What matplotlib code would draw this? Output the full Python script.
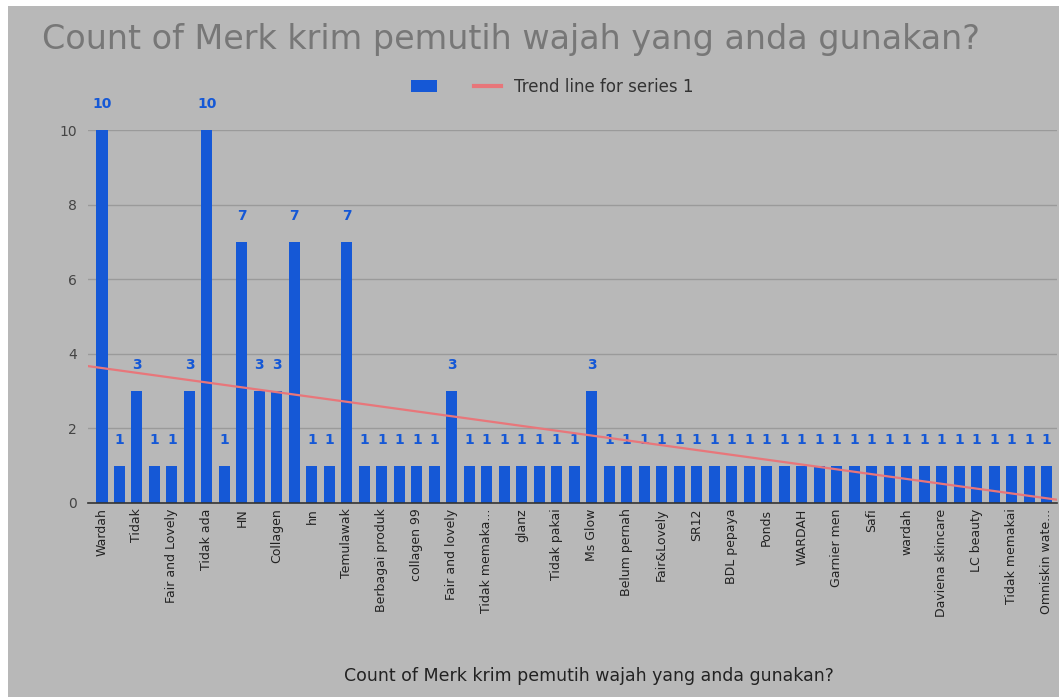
import numpy as np
import matplotlib
matplotlib.use("Agg")
import matplotlib.pyplot as plt
from matplotlib.patches import Rectangle, Patch
from matplotlib.lines import Line2D

# brand answers (one bar per response group), only every other name is shown on the axis
tick_labels = ["Wardah", "Tidak", "Fair and Lovely", "Tidak ada", "HN", "Collagen", "hn",
               "Temulawak", "Berbagai produk", "collagen 99", "Fair and lovely",
               "Tidak memaka...", "glanz", "Tidak pakai", "Ms Glow", "Belum pernah",
               "Fair&Lovely", "SR12", "BDL pepaya", "Ponds", "WARDAH", "Garnier men",
               "Safi", "wardah", "Daviena skincare", "LC beauty", "Tidak memakai",
               "Omniskin wate..."]
counts = [10, 1, 3, 1, 1, 3, 10, 1, 7, 3, 3, 7, 1, 1, 7, 1, 1, 1, 1, 1,
          3, 1, 1, 1, 1, 1, 1, 1, 3, 1, 1, 1, 1, 1, 1, 1, 1, 1, 1, 1,
          1, 1, 1, 1, 1, 1, 1, 1, 1, 1, 1, 1, 1, 1, 1]

title = "Count of Merk krim pemutih wajah yang anda gunakan?"
bg = "#b8b8b8"
blue = "#1558d6"
red = "#e8767a"

W, H = 1059, 697
fig = plt.figure(figsize=(W / 100, H / 100), dpi=100)
fig.patch.set_facecolor("white")
fig.add_artist(Rectangle((8 / W, 0), 1 - 8 / W, 1 - 6 / H, transform=fig.transFigure,
                         facecolor=bg, edgecolor="none", zorder=-10))

ax = fig.add_axes([88 / W, 194 / H, (1057 - 88) / W, 373 / H])
ax.set_facecolor(bg)

x = np.arange(len(counts))
ax.bar(x, counts, width=0.63, color=blue, zorder=3)
for xi, c in zip(x, counts):
    ax.text(xi, c + 0.5, str(c), ha="center", va="bottom", fontsize=10,
            fontweight="bold", color=blue, zorder=4)

# least squares trend line, as the spreadsheet draws it
slope, intercept = np.polyfit(x, counts, 1)
xl = np.array([-0.8, len(counts) - 0.4])
ax.plot(xl, slope * xl + intercept, color=red, lw=1.6, zorder=5)

ax.set_xlim(-0.8, len(counts) - 0.4)
ax.set_ylim(0, 10)
ax.set_yticks([0, 2, 4, 6, 8, 10])
ax.set_xticks(x[::2])
ax.set_xticklabels(tick_labels, rotation=90, fontsize=9, color="#222222")
ax.tick_params(axis="x", length=0, pad=4)
ax.tick_params(axis="y", length=0, pad=8, labelsize=10, labelcolor="#444444")
ax.grid(axis="y", color="#9a9a9a", lw=1, zorder=0)
for s in ["top", "right", "left"]:
    ax.spines[s].set_visible(False)
ax.spines["bottom"].set_color("#333333")
ax.spines["bottom"].set_linewidth(1.2)
ax.spines["bottom"].set_zorder(6)

fig.text(42 / W, 1 - 40 / H, title, fontsize=24, color="#777777", va="center", ha="left")
fig.text(589 / W, 1 - 676 / H, title, fontsize=12.5, color="#222222", ha="center", va="center")

handles = [Patch(facecolor=blue, edgecolor="none"),
           Line2D([], [], color=red, lw=3)]
fig.legend(handles, ["", "Trend line for series 1"], loc="center",
           bbox_to_anchor=(552 / W, 1 - 87 / H), ncol=2, frameon=False, fontsize=12,
           handlelength=1.6, columnspacing=1.4, handletextpad=0.8, labelcolor="#333333")

fig.savefig("out.png", dpi=100, facecolor=fig.get_facecolor())
